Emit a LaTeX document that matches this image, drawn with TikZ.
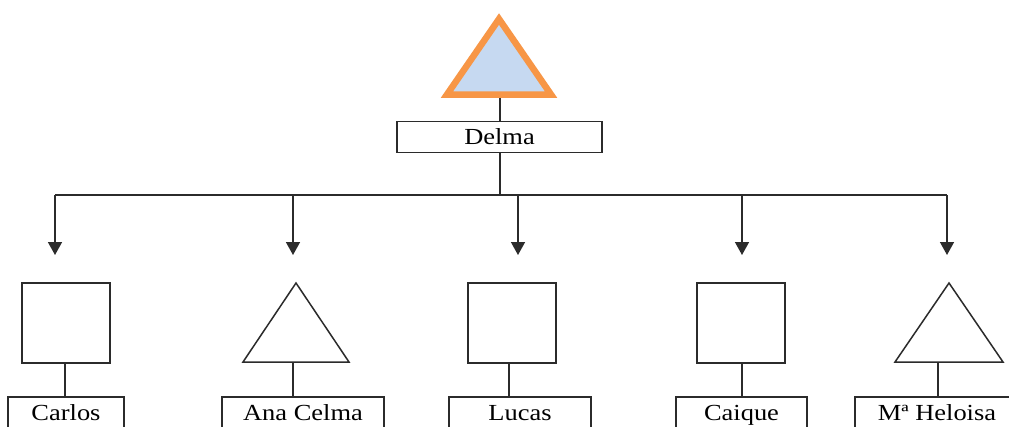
\documentclass[tikz,border=0pt]{standalone}
\usepackage{fontspec}
\setmainfont{Liberation Serif}[FakeStretch=1.15]
\usetikzlibrary{arrows.meta}
\definecolor{kinorange}{HTML}{F79646}
\definecolor{kinblue}{HTML}{C6D9F1}
\definecolor{inkgray}{HTML}{2B2B2B}
\begin{document}
\begin{tikzpicture}[x=1pt,y=-1pt,
  line/.style={draw=inkgray, line width=1.5pt},
  namebox/.style={line, rectangle, minimum height=31pt, inner sep=0pt,
    text height=15pt, text depth=0pt, font=\fontsize{23}{27}\selectfont},
  sqshape/.style={line, rectangle, minimum width=88pt, minimum height=80pt, inner sep=0pt},
  trishape/.style={line, line join=miter},
  arr/.style={line, -{Triangle[width=14pt,length=13pt]}},
]
\clip (0,0) rectangle (1009,426);
\fill[white] (0,0) rectangle (1009,426);

% mother: filled triangle with a soft shadow
\fill[black!40, opacity=0.5] (500.5,21.5) -- (553,97.5) -- (449,97.5) -- cycle;
\draw[kinorange, fill=kinblue, line width=6.5pt, line join=miter]
  (499,19) -- (551,94.5) -- (447,94.5) -- cycle;
\coordinate (motherbase) at (500,97.8);

\node[namebox, minimum width=205pt] (delma) at (499.5,137) {Delma};
\draw[line] (motherbase) -- (motherbase |- delma.north);

% branching line
\coordinate (fork) at (500,195);
\coordinate (h1) at (55,195);
\coordinate (h2) at (293,195);
\coordinate (h3) at (518,195);
\coordinate (h4) at (742,195);
\coordinate (h5) at (947,195);
\draw[line] (fork |- delma.south) -- (fork);
\draw[line] (h1) -- (h5);
\coordinate (t1) at (55,255);
\coordinate (t2) at (293,255);
\coordinate (t3) at (518,255);
\coordinate (t4) at (742,255);
\coordinate (t5) at (947,255);
\foreach \i in {1,...,5} {
  \draw[arr] (h\i) -- (t\i);
}

% children symbols
\node[sqshape] (sq1) at (66,323) {};
\draw[trishape] (296,283) coordinate (tri2top) -- (349,362) -- (243,362) coordinate (tri2l) -- cycle;
\node[sqshape] (sq3) at (512,323) {};
\node[sqshape] (sq4) at (741,323) {};
\draw[trishape] (949,283) coordinate (tri5top) -- (1003,362) -- (895,362) coordinate (tri5l) -- cycle;

% children names
\node[namebox, minimum width=116pt] (carlos) at (66,412.5) {Carlos};
\node[namebox, minimum width=162pt] (ana) at (303,412.5) {Ana Celma};
\node[namebox, minimum width=142pt] (lucas) at (520,412.5) {Lucas};
\node[namebox, minimum width=131pt] (caique) at (741.5,412.5) {Caique};
\node[namebox, minimum width=164pt] (heloisa) at (937,412.5) {Mª Heloisa};

% links from symbol to name
\coordinate (c1) at (65,0);
\coordinate (c2) at (293,362);
\coordinate (c3) at (509,0);
\coordinate (c4) at (742,0);
\coordinate (c5) at (938,362);
\draw[line] (sq1.south -| c1) -- (c1 |- carlos.north);
\draw[line] (c2) -- (c2 |- ana.north);
\draw[line] (sq3.south -| c3) -- (c3 |- lucas.north);
\draw[line] (sq4.south -| c4) -- (c4 |- caique.north);
\draw[line] (c5) -- (c5 |- heloisa.north);
\end{tikzpicture}
\end{document}
